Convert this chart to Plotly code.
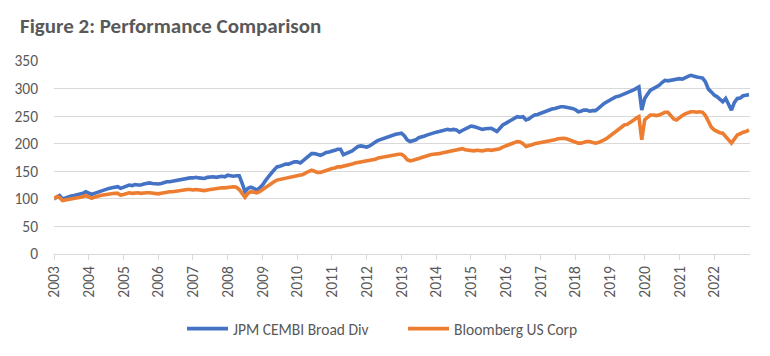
import pandas as pd
import plotly.graph_objects as go

# Monthly index levels, Jan 2003 .. Jan 2023 (241 points)
dates = pd.date_range("2003-01-01", "2023-01-01", freq="MS")

jpm_cembi = [
    100, 104, 106, 100, 102, 104, 105, 106, 107, 109, 110, 113,  # 2003
    111, 108, 110, 112, 114, 116, 117, 119, 120, 121, 122, 119,  # 2004
    121, 124, 125, 124, 126, 125, 125, 127, 128, 129, 128, 127,  # 2005
    127, 128, 130, 131, 131, 132, 134, 135, 136, 137, 137, 138,  # 2006
    138, 139, 138, 137, 137, 139, 140, 140, 139, 140, 141, 140,  # 2007
    143, 142, 141, 142, 142, 128, 113, 119, 121, 119, 116, 120,  # 2008
    125, 133, 140, 146, 152, 158, 159, 161, 163, 163, 165, 167,  # 2009
    167, 165, 169, 174, 178, 182, 182, 180, 179, 181, 184, 185,  # 2010
    186, 188, 190, 190, 180, 182, 184, 187, 191, 195, 196, 195,  # 2011
    194, 196, 200, 203, 206, 208, 210, 212, 214, 215, 217, 218,  # 2012
    219, 214, 207, 204, 205, 207, 211, 212, 214, 216, 218, 220,  # 2013
    221, 222, 223, 225, 226, 225, 226, 225, 221, 224, 227, 229,  # 2014
    232, 231, 229, 228, 226, 227, 227, 228, 225, 222, 228, 234,  # 2015
    237, 240, 243, 247, 249, 248, 249, 243, 245, 249, 252, 253,  # 2016
    255, 257, 260, 262, 263, 264, 266, 267, 267, 266, 266, 264,  # 2017
    262, 258, 259, 261, 261, 259, 260, 260, 264, 269, 273, 276,  # 2018
    279, 282, 285, 286, 288, 290, 293, 295, 297, 300, 303, 261,  # 2019
    282, 290, 297, 300, 303, 306, 311, 315, 314, 315, 316, 318,  # 2020
    318, 317, 320, 322, 324, 322, 321, 320, 319, 312, 299, 294,  # 2021
    288, 285, 280, 276, 282, 270, 261, 275, 282, 283, 287, 288,  # 2022
    289,
]

bbg_us_corp = [
    100, 104, 102, 97, 98, 99, 100, 100, 101, 102, 104, 106,      # 2003
    104, 101, 103, 105, 106, 107, 108, 109, 110, 110, 110, 107,  # 2004
    108, 110, 111, 110, 111, 111, 110, 111, 111, 111, 110, 109,  # 2005
    109, 110, 111, 113, 113, 113, 114, 115, 116, 116, 117, 117,  # 2006
    116, 117, 116, 115, 115, 116, 117, 118, 119, 119, 120, 120,  # 2007
    121, 121, 122, 121, 117, 110, 103, 110, 113, 112, 111, 113,  # 2008
    117, 121, 125, 128, 131, 134, 135, 136, 137, 138, 139, 140,  # 2009
    141, 142, 144, 147, 150, 152, 150, 148, 148, 150, 152, 154,  # 2010
    155, 156, 158, 158, 159, 161, 162, 163, 165, 166, 167, 167,  # 2011
    168, 170, 171, 172, 174, 175, 176, 177, 178, 179, 181, 181,  # 2012
    181, 177, 171, 169, 170, 171, 173, 175, 177, 178, 180, 181,  # 2013
    181, 182, 183, 184, 185, 186, 187, 188, 190, 191, 189, 188,  # 2014
    187, 187, 188, 187, 187, 188, 189, 188, 189, 190, 191, 194,  # 2015
    196, 198, 200, 203, 204, 203, 200, 195, 196, 198, 200, 201,  # 2016
    201, 202, 203, 204, 206, 207, 209, 210, 210, 209, 207, 204,  # 2017
    202, 201, 201, 203, 204, 204, 202, 201, 202, 204, 207, 210,  # 2018
    214, 217, 221, 226, 230, 234, 235, 238, 242, 246, 249, 207,  # 2019
    243, 248, 252, 252, 251, 252, 255, 257, 257, 250, 245, 243,  # 2020
    248, 251, 254, 256, 258, 258, 257, 258, 257, 251, 240, 230,  # 2021
    225, 222, 220, 219, 214, 207, 201, 209, 216, 218, 221, 222,  # 2022
    225,
]

series_names = ["JPM CEMBI Broad Div", "Bloomberg US Corp"]
series_colors = ["#4472C4", "#ED7D31"]
year_labels = [str(y) for y in range(2003, 2023)]
year_ticks = [f"{y}-01-01" for y in range(2003, 2023)]
y_ticks = list(range(0, 351, 50))

FONT = "Carlito, Open Sans, Liberation Sans, sans-serif"
GREY_TXT = "#595959"
GRID = "#D9D9D9"

# page body has an 8px default margin, so the figure is drawn 8px in
W, H = 762, 348

fig = go.Figure()
for i, (name, vals, col) in enumerate(zip(series_names, [jpm_cembi, bbg_us_corp], series_colors)):
    fig.add_trace(go.Scatter(
        x=dates, y=vals, mode="lines", name=name,
        line=dict(color=col, width=3.6),
        legend="legend" if i == 0 else "legend2",
    ))

leg_common = dict(
    orientation="h", xref="container", yref="container",
    xanchor="left", yanchor="middle", y=1 - 321 / H,
    font=dict(family=FONT, size=15.5, color=GREY_TXT),
    itemwidth=41, bgcolor="rgba(0,0,0,0)", borderwidth=0,
)

fig.update_layout(
    width=W, height=H,
    margin=dict(l=46, r=20, t=53, b=102, autoexpand=False),
    paper_bgcolor="white", plot_bgcolor="white",
    font=dict(family=FONT, size=15.5, color=GREY_TXT),
    title=dict(
        text="<b>Figure 2: Performance Comparison</b>",
        x=12 / W, xref="container", xanchor="left",
        y=1 - 17.5 / H, yref="container", yanchor="middle",
        pad=dict(l=0, r=0, t=0, b=0),
        font=dict(family=FONT, size=21, color=GREY_TXT),
    ),
    showlegend=True,
    legend=dict(x=(179 - 5) / W, **leg_common),
    legend2=dict(x=(400 - 5) / W, **leg_common),
)

fig.update_xaxes(
    type="date", automargin=False,
    range=["2003-01-01", "2023-01-12"],
    tickmode="array", tickvals=year_ticks, ticktext=year_labels,
    tickangle=-90, ticks="outside", ticklen=5, tickcolor=GRID,
    showline=True, linecolor=GRID, linewidth=1,
    showgrid=False, zeroline=False,
    tickfont=dict(family=FONT, size=15.5, color=GREY_TXT),
)
fig.update_yaxes(
    range=[0, 350], tickmode="array", tickvals=y_ticks, automargin=False,
    showgrid=True, gridcolor=GRID, gridwidth=1,
    zeroline=False, showline=False, ticks="",
    ticklabelstandoff=15,
    tickfont=dict(family=FONT, size=15.5, color=GREY_TXT),
)

fig.write_html("out.html")
